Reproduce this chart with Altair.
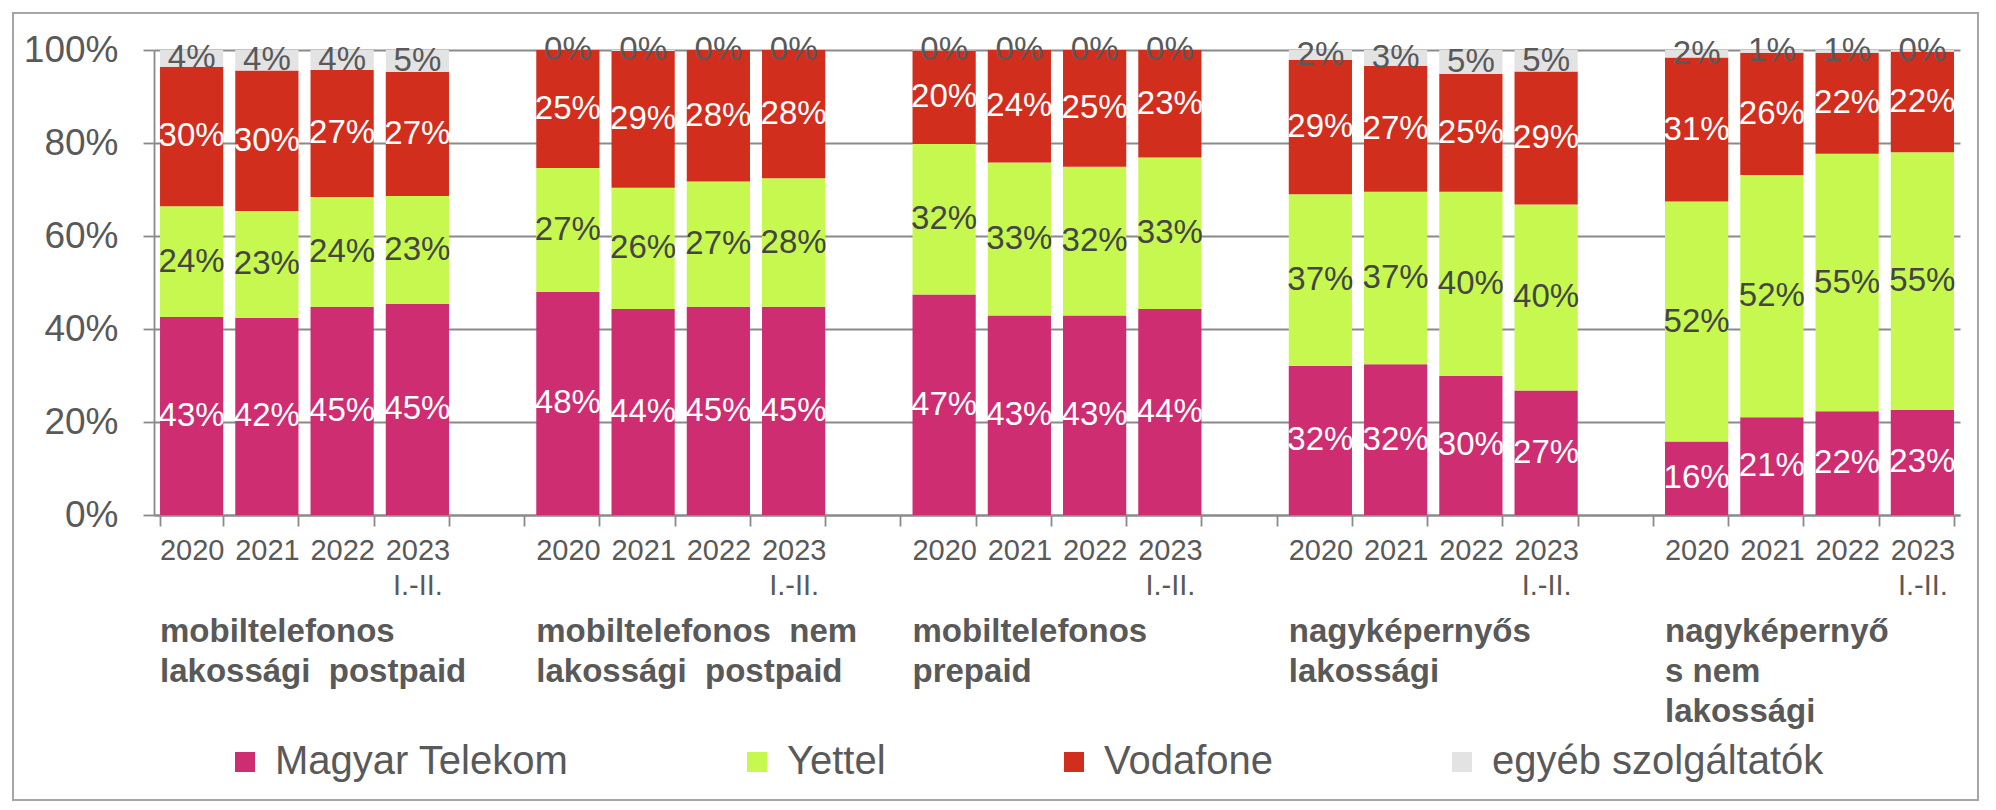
import altair as alt
import pandas as pd

# ---------------- data ----------------
groups = [
    "mobiltelefonos\nlakossági\u00a0 postpaid",
    "mobiltelefonos\u00a0 nem\nlakossági\u00a0 postpaid",
    "mobiltelefonos\nprepaid",
    "nagyképernyős\nlakossági",
    "nagyképernyő\ns nem\nlakossági",
]
years = ["2020", "2021", "2022", "2023\n\u00a0\u00a0I.-II."]
series = ["Magyar Telekom", "Yettel", "Vodafone", "egyéb szolgáltatók"]

# market shares in %, one row per group, one value per year
telekom = [[42.6, 42.4, 44.8, 45.4], [48.0, 44.3, 44.8, 44.8], [47.4, 42.9, 42.9, 44.3],
           [32.1, 32.4, 29.9, 26.8], [15.8, 21.0, 22.3, 22.6]]
yettel = [[23.8, 23.0, 23.6, 23.2], [26.6, 26.1, 26.9, 27.6], [32.4, 32.9, 32.0, 32.6],
          [36.9, 37.1, 39.6, 40.0], [51.6, 52.1, 55.4, 55.4]]
vodafone = [[30.0, 30.2, 27.3, 26.7], [25.4, 29.4, 28.3, 27.6], [20.1, 24.2, 25.1, 23.1],
            [28.9, 27.1, 25.4, 28.6], [31.0, 26.3, 21.7, 21.6]]
other = [[3.6, 4.4, 4.3, 4.7], [0.0, 0.2, 0.0, 0.0], [0.1, 0.0, 0.0, 0.0],
         [2.1, 3.4, 5.1, 4.6], [1.6, 0.6, 0.6, 0.4]]

# ---------------- styles ----------------
colors = ["#CE2D72", "#C6F84F", "#D22E1E", "#E3E3E3"]
label_colors = ["#FFFFFF", "#454545", "#FFFFFF", "#595959"]
FONT = "Liberation Sans"
GRID = "#8A8A8A"
TEXT = "#595959"

n_groups = len(groups)
n_years = len(years)
slots_per_group = n_years + 1
n_slots = n_groups * slots_per_group - 1

rows = []
for gi in range(n_groups):
    for yi in range(n_years):
        slot = gi * slots_per_group + yi
        base = 0.0
        for si, arr in enumerate([telekom, yettel, vodafone, other]):
            v = arr[gi][yi]
            rows.append(dict(slot=slot, series=series[si], value=v, v0=base, v1=base + v,
                             mid=base + v / 2, lc=label_colors[si], label=f"{round(v)}%"))
            base += v
df = pd.DataFrame(rows)

gdf = pd.DataFrame({"slot": [gi * slots_per_group for gi in range(n_groups)], "text": groups})

years_js = "[" + ",".join("'" + y.replace("\n", "|") + "'" for y in years) + "]"
label_expr = (f"!isNumber(datum.value) || datum.value % {slots_per_group} == {n_years} ? '' : "
              f"split({years_js}[datum.value % {slots_per_group}], '|')")

x_scale = alt.Scale(domain=list(range(n_slots)), paddingInner=0.16, paddingOuter=0.08)

x_axis = alt.Axis(title=None, labelExpr=label_expr, labelAngle=0, tickBand="extent",
                  tickSize=11, tickColor=GRID, tickWidth=1.8, domainColor=GRID, domainWidth=1.8,
                  labelFont=FONT, labelFontSize=29, labelColor=TEXT, labelLineHeight=35,
                  labelPadding=10, grid=False)
y_axis = alt.Axis(title=None, values=[0, 20, 40, 60, 80, 100], labelExpr="datum.value + '%'",
                  tickSize=11, tickColor=GRID, tickWidth=1.8, domainColor=GRID, domainWidth=1.8,
                  gridColor=GRID, gridWidth=1.8, labelFont=FONT, labelFontSize=37,
                  labelColor=TEXT, labelPadding=25)

base = alt.Chart(df)

bars = base.mark_bar().encode(
    x=alt.X("slot:O", scale=x_scale, axis=x_axis),
    y=alt.Y("v1:Q", scale=alt.Scale(domain=[0, 100], nice=False), axis=y_axis),
    y2="v0:Q",
    color=alt.Color("series:N", scale=alt.Scale(domain=series, range=colors),
                    legend=alt.Legend(orient="none", legendX=71, legendY=692, direction="horizontal",
                                      columns=4, title=None, symbolType="square", symbolSize=400,
                                      symbolStrokeWidth=0, labelFont=FONT, labelFontSize=40,
                                      labelColor=TEXT, columnPadding=168, labelOffset=10,
                                      labelLimit=1000, padding=0)),
)

labels = base.mark_text(font=FONT, fontSize=33, baseline="middle", align="center").encode(
    x=alt.X("slot:O", scale=x_scale),
    y=alt.Y("mid:Q"),
    text="label:N",
    color=alt.Color("lc:N", scale=None, legend=None),
)

glabels = alt.Chart(gdf).mark_text(font=FONT, fontSize=33, fontWeight="bold", align="left",
                                   baseline="top", lineBreak="\n", lineHeight=40,
                                   color=TEXT).encode(
    x=alt.X("slot:O", scale=x_scale, bandPosition=0),
    y=alt.value(566),
    text="text:N",
)

frame = alt.Chart(pd.DataFrame({"a": [0]})).mark_rect(
    fill="transparent", stroke="#A6A6A6", strokeWidth=2
).encode(x=alt.value(-141), x2=alt.value(1824), y=alt.value(-37), y2=alt.value(750))

chart = alt.layer(frame, bars, labels, glabels).properties(
    width=1806, height=465,
    padding={"left": 146, "top": 42, "right": 28, "bottom": 287},
    autosize=alt.AutoSizeParams(type="none"),
).configure_view(strokeWidth=0)

chart.save("out.html", embed_options={"renderer": "svg", "actions": False})
